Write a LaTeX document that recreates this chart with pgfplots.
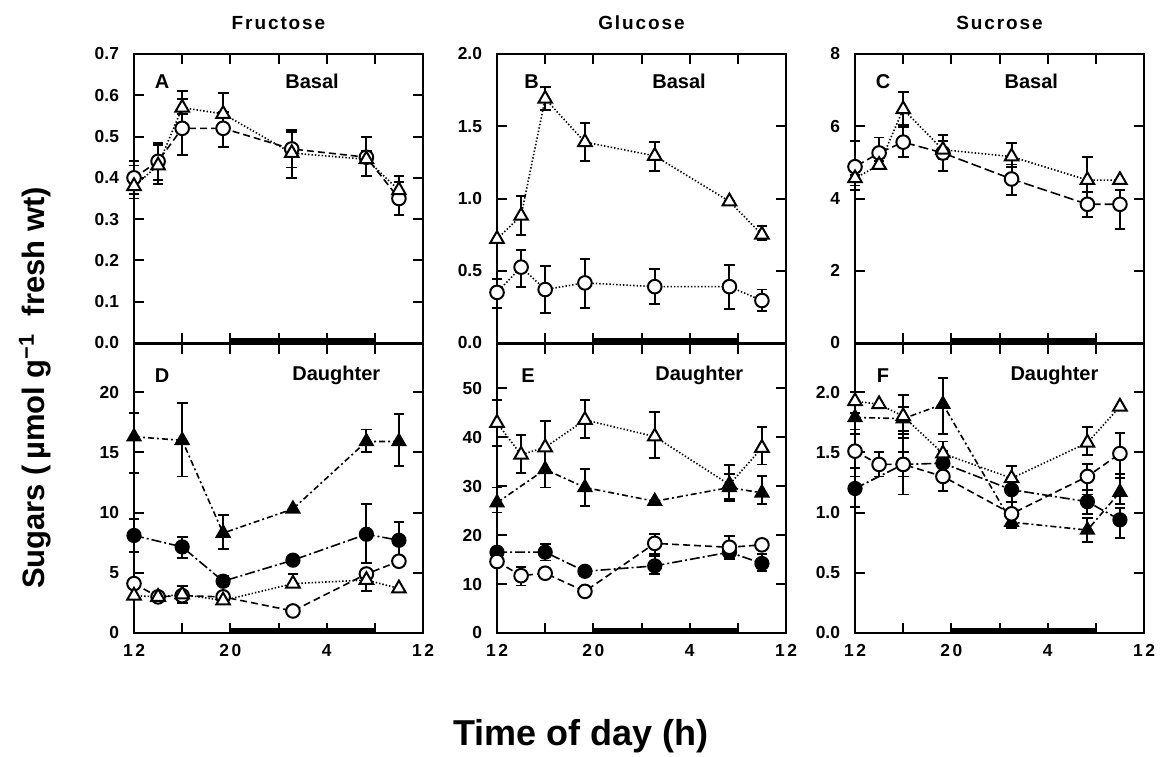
\documentclass[border=0pt]{standalone}
\usepackage{fontspec}
\setmainfont{Liberation Sans}
\newfontfamily\spaced[LetterSpace=10]{Liberation Sans}
\usepackage{pgfplots}
\pgfplotsset{compat=1.18}
\usepackage{pgfplotstable}

\newcommand\tickfont{\fontsize{8.7}{10}\selectfont\bfseries}
\newcommand\lbl{\fontsize{10}{12}\selectfont\bfseries}

% ---------- Panel A (Fructose, basal) ----------
\pgfplotstableread{
x y ep em
12 0.40 0.04 0.04
14 0.44 0.045 0.045
16 0.52 0.07 0.065
19.4 0.52 0.04 0.045
25.1 0.47 0.045 0.045
31.3 0.45 0.05 0.045
34 0.35 0.055 0.04
}\Aoc
\pgfplotstableread{
x y ep em
12 0.38 0.05 0.03
14 0.43 0.05 0.045
16 0.57 0.04 0.015
19.4 0.555 0.05 0.03
25.1 0.46 0.05 0.06
31.3 0.445 0.02 0.04
34 0.37 0.02 0.02
}\Aot
% ---------- Panel B (Glucose, basal) ----------
\pgfplotstableread{
x y ep em
12 0.35 0.09 0.11
14 0.525 0.12 0.135
16 0.37 0.16 0.16
19.3 0.416 0.164 0.176
25.1 0.39 0.12 0.12
31.3 0.39 0.15 0.154
34 0.294 0.076 0.074
}\Boc
\pgfplotstableread{
x y ep em
12 0.72 0 0
14 0.88 0.14 0.13
16 1.69 0.08 0.08
19.3 1.39 0.13 0.13
25.1 1.295 0.095 0.105
31.3 0.98 0 0
34 0.75 0.06 0.04
}\Bot
% ---------- Panel C (Sucrose, basal) ----------
\pgfplotstableread{
x y ep em
12 4.88 0.7 0.65
14 5.26 0.43 0.3
16 5.56 0.47 0.4
19.3 5.26 0.5 0.5
25 4.54 0.4 0.45
31.3 3.84 0.35 0.35
34 3.84 0.4 0.68
}\Coc
\pgfplotstableread{
x y ep em
12 4.56 0.1 0.2
14 4.93 0.1 0.1
16 6.47 0.49 0.5
19.3 5.35 0.25 0.25
25 5.16 0.37 0.3
31.3 4.51 0.63 0.32
34 4.51 0 0
}\Cot
% ---------- Panel D (Fructose, daughter) ----------
\pgfplotstableread{
x y ep em
12 16.3 2.0 3.0
16 16.0 3.1 3.0
19.4 8.3 1.5 1.3
25.2 10.3 0 0
31.3 15.9 1.0 0.9
34 15.9 2.3 2.0
}\Dft
\pgfplotstableread{
x y ep em
12 8.1 1.4 1.4
16 7.15 0.85 0.95
19.4 4.3 0.4 0.4
25.2 6.05 0.3 0.3
31.3 8.2 2.5 2.4
34 7.7 1.5 1.5
}\Dfc
\pgfplotstableread{
x y ep em
12 4.1 0 0
14 3.0 0 0
16 3.1 0.3 0.3
19.4 3.0 0 0
25.2 1.83 0 0
31.3 4.9 0.3 0.3
34 5.96 0 0
}\Doc
\pgfplotstableread{
x y ep em
12 3.1 0 0
14 3.0 0 0
16 3.2 0.7 0.7
19.4 2.7 0 0
25.2 4.1 0.8 0.3
31.3 4.4 0.5 0.9
34 3.7 0 0
}\Dot
% ---------- Panel E (Glucose, daughter) ----------
\pgfplotstableread{
x y ep em
12 42.9 4.7 4.7
14 36.4 4.1 3.7
16 37.9 5.3 5.0
19.3 43.5 4.1 3.7
25.1 40.1 5.1 4.4
31.3 30.3 4.0 3.0
34 37.8 4.2 3.4
}\Eot
\pgfplotstableread{
x y ep em
12 26.6 3.1 2.0
16 33.4 4.0 3.7
19.3 29.7 3.7 3.8
25.1 26.9 0 0
31.3 29.7 2.7 2.7
34 28.6 3.4 2.3
}\Eft
\pgfplotstableread{
x y ep em
12 16.5 0 0
16 16.5 1.7 1.7
19.3 12.6 0 0
25.1 13.7 2.4 1.7
31.3 16.5 0.6 0.6
34 14.2 1.9 1.5
}\Efc
\pgfplotstableread{
x y ep em
12 14.6 0 0
14 11.7 1.7 2.0
16 12.2 0 0
19.3 8.5 0 0
25.1 18.3 1.9 2.5
31.3 17.5 2.3 2.4
34 18.0 0 0
}\Eoc
% ---------- Panel F (Sucrose, daughter) ----------
\pgfplotstableread{
x y ep em
12 1.925 0.075 0.1
14 1.9 0 0
16 1.8 0.18 0.18
19.3 1.49 0.1 0.1
25 1.285 0.1 0.1
31.3 1.58 0.13 0.1
34 1.88 0 0
}\Fot
\pgfplotstableread{
x y ep em
12 1.79 0.1 0.1
16 1.78 0.1 0.1
19.3 1.9 0.22 0.25
25 0.92 0.05 0.05
31.3 0.855 0.1 0.1
34 1.17 0.15 0.1
}\Fft
\pgfplotstableread{
x y ep em
12 1.2 0.1 0.15
16 1.4 0.1 0.1
19.3 1.41 0.1 0.1
25 1.19 0.1 0.1
31.3 1.09 0.1 0.1
34 0.94 0.1 0.15
}\Ffc
\pgfplotstableread{
x y ep em
12 1.51 0.14 0.14
14 1.4 0.1 0.1
16 1.4 0.25 0.25
19.3 1.3 0.1 0.12
25 0.99 0.1 0.1
31.3 1.3 0.1 0.15
34 1.49 0.17 0.2
}\Foc

\pgfplotsset{
  panel/.style={scale only axis, width=144.5pt, height=144.5pt,
    anchor=south west, xmin=12, xmax=36, xtick={12,16,...,36},
    tick align=inside, major tick length=5pt,
    axis line style={line width=1.1pt},
    major tick style={line width=1pt, black},
    clip=false, ymin=0,
    /pgf/number format/assume math mode=true,
    ticklabel style={font=\tickfont},
    yticklabel style={xshift=-4pt},
    xticklabel style={yshift=-2pt}},
  toprow/.style={panel, xticklabels={}},
  botrow/.style={panel, xticklabels={1\kern1.3pt 2,,2\kern1.3pt 0,,4,,1\kern1.3pt 2}},
  errs/.style={error bars/y dir=both, error bars/y explicit,
    error bars/error bar style={solid, line width=0.95pt},
    error bars/error mark options={rotate=90, mark size=2.7pt, line width=0.95pt, solid}},
  oc/.style={black, line width=0.8pt, dash pattern=on 3.5pt off 2pt, mark=*, mark size=3.4pt,
    mark options={solid, fill=white, line width=1pt}, errs},
  ot/.style={black, line width=0.8pt, dash pattern=on 0.7pt off 1pt, mark=triangle*, mark size=3.9pt,
    mark options={solid, fill=white, line width=1pt}, errs},
  fc/.style={black, line width=0.8pt, dash pattern=on 5pt off 1.5pt on 1pt off 1.5pt, mark=*, mark size=3.4pt,
    mark options={solid, fill=black}, errs},
  ft/.style={black, line width=0.8pt, dash pattern=on 3pt off 1.5pt on 1pt off 1.5pt, mark=triangle*, mark size=3.9pt,
    mark options={solid, fill=black}, errs},
  darkbar/.style={black, line width=2.4pt, forget plot, yshift=1.1pt, mark=none}
}

\begin{document}
\begin{tikzpicture}
\useasboundingbox (0,0) rectangle (580.5pt,378pt);

% ---- Bottom row ----
\begin{axis}[botrow, at={(67pt,61.5pt)}, ymax=24, ytick={0,5,10,15,20}]
\addplot[darkbar] coordinates {(20,0) (32,0)};
\addplot[ft] table[x=x,y=y,y error plus=ep,y error minus=em]{\Dft};
\addplot[fc] table[x=x,y=y,y error plus=ep,y error minus=em]{\Dfc};
\addplot[oc] table[x=x,y=y,y error plus=ep,y error minus=em]{\Doc};
\addplot[ot] table[x=x,y=y,y error plus=ep,y error minus=em]{\Dot};
\node at (rel axis cs:0.097,0.89) {\lbl D};
\node at (rel axis cs:0.70,0.89) {\lbl Daughter};
\end{axis}

\begin{axis}[botrow, at={(248.5pt,61.5pt)}, ymax=59, ytick={0,10,20,30,40,50}]
\addplot[darkbar] coordinates {(20,0) (32,0)};
\addplot[ot] table[x=x,y=y,y error plus=ep,y error minus=em]{\Eot};
\addplot[ft] table[x=x,y=y,y error plus=ep,y error minus=em]{\Eft};
\addplot[fc] table[x=x,y=y,y error plus=ep,y error minus=em]{\Efc};
\addplot[oc] table[x=x,y=y,y error plus=ep,y error minus=em]{\Eoc};
\node at (rel axis cs:0.107,0.89) {\lbl E};
\node at (rel axis cs:0.70,0.89) {\lbl Daughter};
\end{axis}

\begin{axis}[botrow, at={(427.5pt,61.5pt)}, ymax=2.4, ytick={0,0.5,1,1.5,2},
  yticklabels={0.0,0.5,1.0,1.5,2.0}]
\addplot[darkbar] coordinates {(20,0) (32,0)};
\addplot[ft] table[x=x,y=y,y error plus=ep,y error minus=em]{\Fft};
\addplot[fc] table[x=x,y=y,y error plus=ep,y error minus=em]{\Ffc};
\addplot[oc] table[x=x,y=y,y error plus=ep,y error minus=em]{\Foc};
\addplot[ot] table[x=x,y=y,y error plus=ep,y error minus=em]{\Fot};
\node at (rel axis cs:0.097,0.89) {\lbl F};
\node at (rel axis cs:0.69,0.89) {\lbl Daughter};
\end{axis}

% ---- Top row ----
\begin{axis}[toprow, at={(67pt,206.5pt)}, ymax=0.7, ytick={0,0.1,...,0.7},
  yticklabels={0.0,0.1,0.2,0.3,0.4,0.5,0.6,0.7}]
\addplot[darkbar] coordinates {(20,0) (32,0)};
\addplot[oc] table[x=x,y=y,y error plus=ep,y error minus=em]{\Aoc};
\addplot[ot] table[x=x,y=y,y error plus=ep,y error minus=em]{\Aot};
\node at (rel axis cs:0.097,0.906) {\lbl A};
\node at (rel axis cs:0.616,0.906) {\lbl Basal};
\end{axis}

\begin{axis}[toprow, at={(248.5pt,206.5pt)}, ymax=2, ytick={0,0.5,1,1.5,2},
  yticklabels={0.0,0.5,1.0,1.5,2.0}]
\addplot[darkbar] coordinates {(20,0) (32,0)};
\addplot[oc, dash pattern=on 0.7pt off 1pt] table[x=x,y=y,y error plus=ep,y error minus=em]{\Boc};
\addplot[ot] table[x=x,y=y,y error plus=ep,y error minus=em]{\Bot};
\node at (rel axis cs:0.12,0.906) {\lbl B};
\node at (rel axis cs:0.63,0.906) {\lbl Basal};
\end{axis}

\begin{axis}[toprow, at={(427.5pt,206.5pt)}, ymax=8, ytick={0,2,4,6,8}]
\addplot[darkbar] coordinates {(20,0) (32,0)};
\addplot[oc, dash pattern=on 5pt off 2pt] table[x=x,y=y,y error plus=ep,y error minus=em]{\Coc};
\addplot[ot] table[x=x,y=y,y error plus=ep,y error minus=em]{\Cot};
\node at (rel axis cs:0.097,0.906) {\lbl C};
\node at (rel axis cs:0.61,0.906) {\lbl Basal};
\end{axis}

% ---- Titles and axis labels ----
\node at (139.25pt,366.5pt) {\fontsize{9.5}{11}\selectfont\bfseries\spaced Fructose};
\node at (320.75pt,366.5pt) {\fontsize{9.5}{11}\selectfont\bfseries\spaced Glucose};
\node at (499.75pt,366.5pt) {\fontsize{9.5}{11}\selectfont\bfseries\spaced Sucrose};
\node[rotate=90] at (17.5pt,184pt) {\fontsize{15.5}{18}\selectfont\bfseries Sugars (\,µmol g\textsuperscript{−1}\ \ fresh wt)};
\node at (290.5pt,10pt) {\fontsize{18}{21}\selectfont\bfseries Time of day (h)};
\end{tikzpicture}
\end{document}
